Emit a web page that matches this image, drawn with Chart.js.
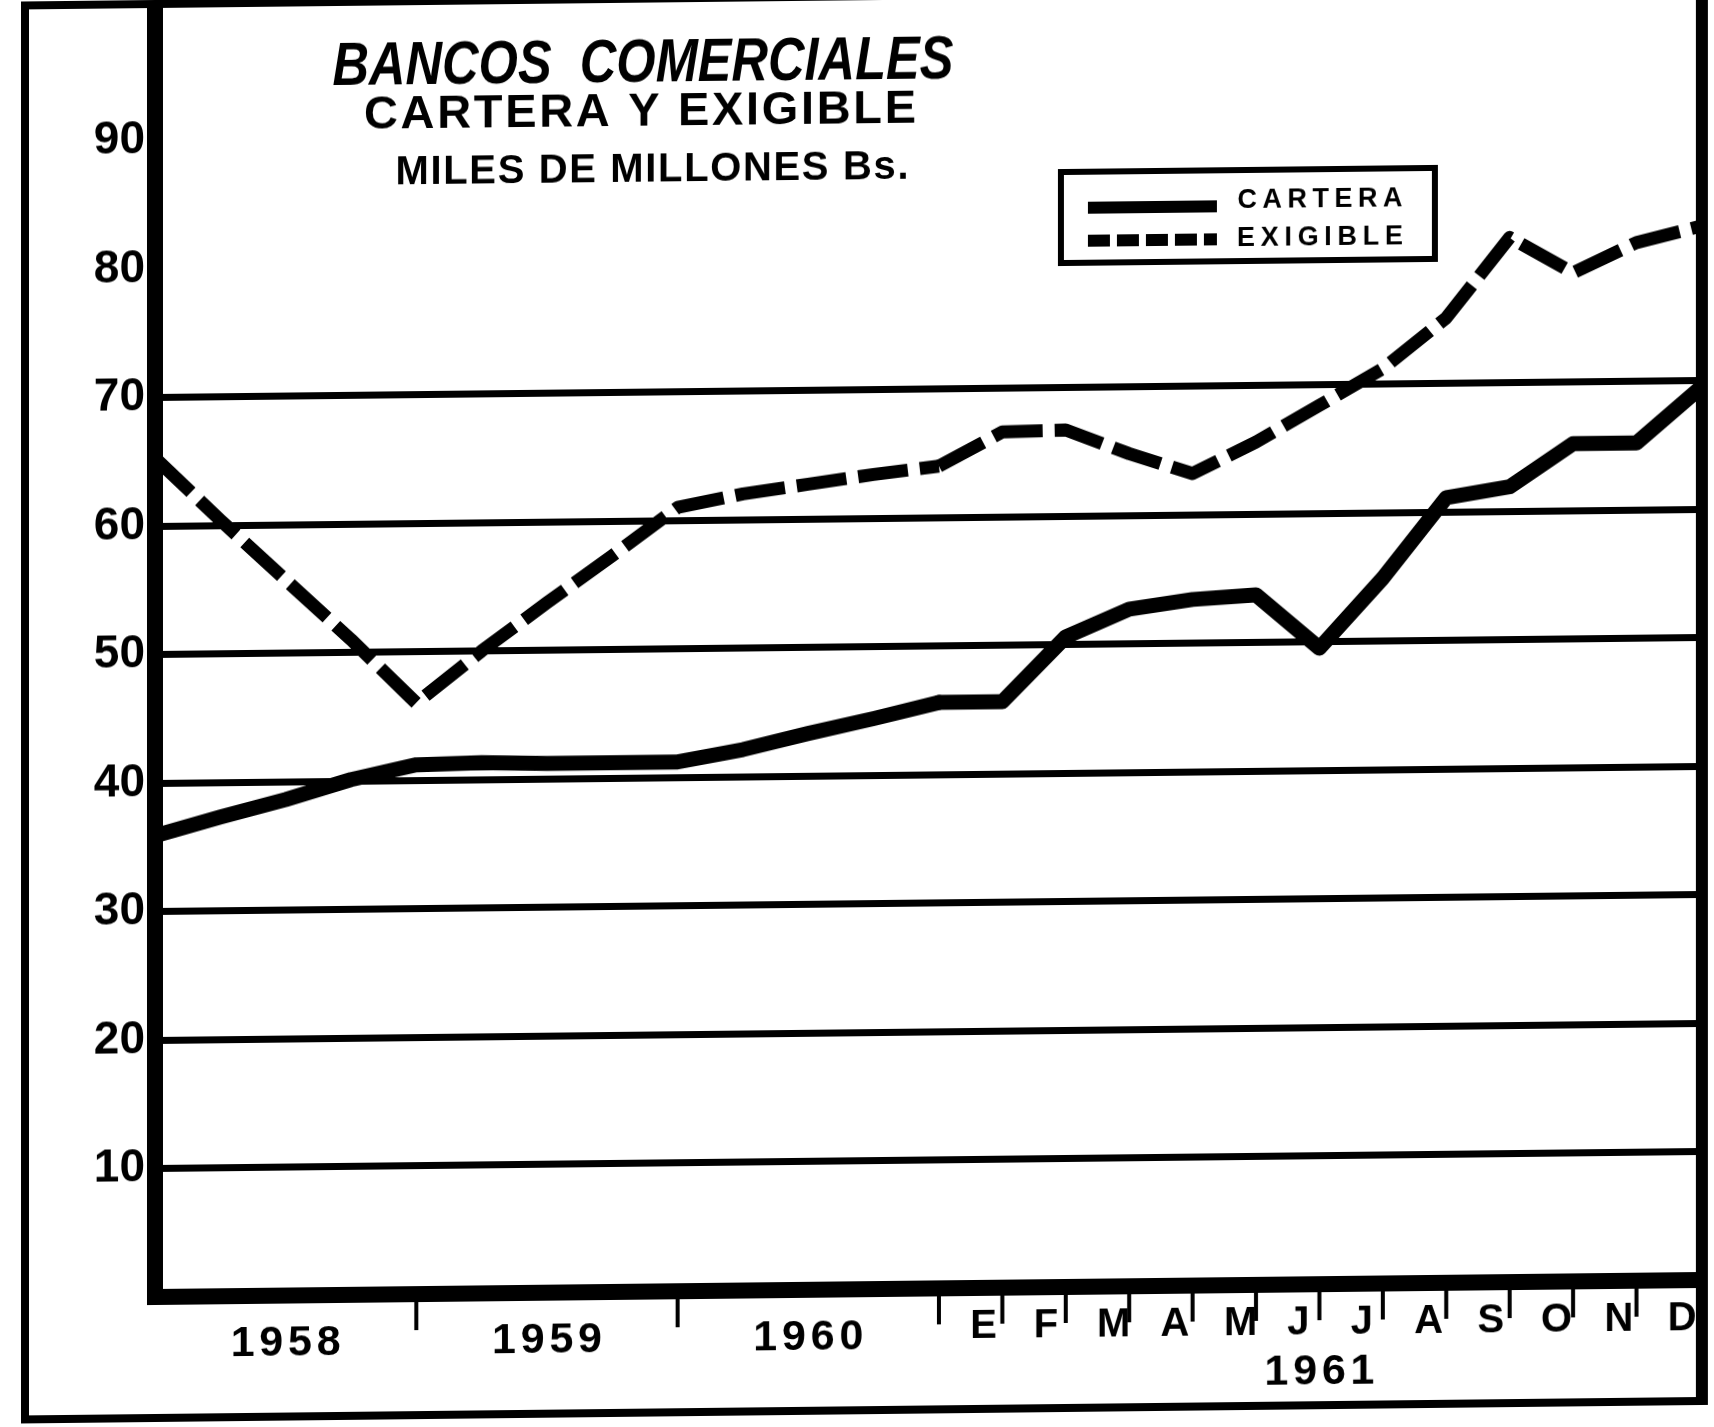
<!DOCTYPE html>
<html>
<head>
<meta charset="utf-8">
<script src="https://cdn.jsdelivr.net/npm/chart.js@4.4.1/dist/chart.umd.min.js"></script>
<style>
  html, body { margin: 0; padding: 0; background: #ffffff; }
  #wrap { position: relative; width: 1714px; height: 1427px; transform: skewY(-0.63deg); transform-origin: 155px 0; }
  canvas { display: block; }
</style>
</head>
<body>
<div id="wrap"><canvas id="c" width="1714" height="1427"></canvas></div>
<script>
// ---- data ----
// 1958-1960: quarterly points; 1961: monthly points (end of period values)
const periods = ['Dic 1957','Mar 1958','Jun 1958','Sep 1958','Dic 1958',
                 'Mar 1959','Jun 1959','Sep 1959','Dic 1959',
                 'Mar 1960','Jun 1960','Sep 1960','Dic 1960',
                 'Ene 1961','Feb 1961','Mar 1961','Abr 1961','May 1961','Jun 1961',
                 'Jul 1961','Ago 1961','Sep 1961','Oct 1961','Nov 1961','Dic 1961'];
const cartera  = [35.9, 37.3, 38.6, 40.1, 41.2, 41.3, 41.2, 41.2, 41.2,
                  42.1, 43.3, 44.4, 45.6, 45.6, 50.6, 52.7, 53.4, 53.7, 49.5,
                  54.9, 61.1, 61.9, 65.2, 65.2, 69.4];
const exigible = [65.3, 60.4, 55.7, 51.0, 46.0, 50.0, 53.7, 57.3, 61.0,
                  62.0, 62.7, 63.4, 64.0, 66.6, 66.7, 64.8, 63.2, 65.6, 68.4,
                  71.2, 75.1, 81.3, 78.5, 80.8, 82.0];
const seriesNames = ['CARTERA', 'EXIGIBLE'];
const yearLabels = ['1958', '1959', '1960'];
const monthLabels = ['E','F','M','A','M','J','J','A','S','O','N','D'];
const monthYear = '1961';
const yTickValues = [10, 20, 30, 40, 50, 60, 70, 80, 90];
const gridMax = 70;
const titleLines = ['BANCOS  COMERCIALES', 'CARTERA Y EXIGIBLE', 'MILES DE MILLONES Bs.'];

// split point between the quarterly part and the monthly part
const splitIdx = periods.indexOf('Dic 1960');
const periodsA = periods.slice(0, splitIdx + 1);
const periodsB = periods.slice(splitIdx);

const FONT = '"Liberation Sans", Arial, sans-serif';

function drawFitted(ctx, text, cx, cy, size, width, style) {
  ctx.save();
  ctx.font = (style || 'bold') + ' ' + size + 'px ' + FONT;
  const chars = Array.from(text);
  const ws = chars.map(c => ctx.measureText(c).width);
  const nat = ws.reduce((a, b) => a + b, 0);
  let sp = chars.length > 1 ? (width - nat) / (chars.length - 1) : 0;
  let sx = 1;
  if (sp < 0) { sx = width / nat; sp = 0; }
  ctx.translate(cx - width / 2, cy + 0.358 * size);
  ctx.scale(sx, 1);
  ctx.textAlign = 'left';
  ctx.textBaseline = 'alphabetic';
  ctx.fillStyle = '#000';
  let x = 0;
  chars.forEach((c, i) => { ctx.fillText(c, x, 0); x += ws[i] + sp; });
  ctx.restore();
}

const decorPlugin = {
  id: 'decor',
  afterDraw(chart) {
    const ctx = chart.ctx;
    const xa = chart.scales.xa, xb = chart.scales.xb;
    const area = chart.chartArea;
    ctx.save();
    ctx.fillStyle = '#000';
    // outer frame
    ctx.fillRect(21, 0, 1687, 8);
    ctx.fillRect(21, 0, 8, 1422);
    ctx.fillRect(21, 1414, 1687, 8);
    ctx.fillRect(1696, 0, 12, 1422);
    // axis lines
    ctx.fillRect(area.left - 8, 0, 16, area.bottom + 8);
    ctx.fillRect(area.left - 8, area.bottom - 8, area.right - area.left + 12, 16);

    // years (quarterly part)
    const pa = i => xa.getPixelForValue(i);
    const pb = i => xb.getPixelForValue(i);
    const yearEnds = yearLabels.map(y => periodsA.indexOf('Dic ' + y));
    let prev = 0;
    yearLabels.forEach((y, k) => {
      const a = pa(prev), b = pa(yearEnds[k]);
      drawFitted(ctx, y, (a + b) / 2, area.bottom + 45, 43, 110);
      ctx.fillRect(b - 2, area.bottom, 4, 36);
      prev = yearEnds[k];
    });
    // months (monthly part)
    monthLabels.forEach((m, k) => {
      const a = pb(k), b = pb(k + 1);
      drawFitted(ctx, m, (a + b) / 2, area.bottom + 36, 40, 1);
      if (k < monthLabels.length - 1) ctx.fillRect(b - 2, area.bottom, 4, 36);
    });
    drawFitted(ctx, monthYear, (pb(0) + pb(monthLabels.length)) / 2, area.bottom + 85, 43, 110);

    // title
    drawFitted(ctx, titleLines[0], 643, 65, 61, 621, 'italic bold');
    drawFitted(ctx, titleLines[1], 640, 114, 47, 552, 'bold');
    drawFitted(ctx, titleLines[2], 652, 173, 40, 513, 'bold');

    // legend
    ctx.lineWidth = 6;
    ctx.strokeStyle = '#000';
    ctx.strokeRect(1061, 182, 374, 91);
    ctx.lineCap = 'butt';
    ctx.beginPath();
    ctx.lineWidth = 12;
    ctx.setLineDash([]);
    ctx.moveTo(1088, 218); ctx.lineTo(1217, 218);
    ctx.stroke();
    ctx.beginPath();
    ctx.lineWidth = 12;
    ctx.setLineDash([22, 7]);
    ctx.moveTo(1088, 251); ctx.lineTo(1217, 251);
    ctx.stroke();
    ctx.setLineDash([]);
    drawFitted(ctx, seriesNames[0], 1320, 210, 27, 165);
    drawFitted(ctx, seriesNames[1], 1320, 248, 27, 166);
    ctx.restore();
  }
};

const solid = { borderColor: '#000', borderWidth: 15, pointRadius: 0, tension: 0, fill: false,
                borderJoinStyle: 'round', borderCapStyle: 'round' };
const dashed = { borderColor: '#000', borderWidth: 13, borderDash: [50, 12], pointRadius: 0, tension: 0,
                 fill: false, borderJoinStyle: 'round', borderCapStyle: 'butt' };

const xCommon = {
  type: 'category', offset: false, position: 'bottom', stack: 'time',
  ticks: { display: false },
  grid: { display: false, drawTicks: false },
  border: { display: true, color: '#000', width: 15 },
  afterFit(s) { s.height = 0; s.paddingLeft = 0; s.paddingRight = 0; }
};

new Chart(document.getElementById('c'), {
  type: 'line',
  data: {
    datasets: [
      Object.assign({ label: seriesNames[0], data: cartera.slice(0, splitIdx + 1), xAxisID: 'xa' }, solid),
      Object.assign({ label: seriesNames[0], data: cartera.slice(splitIdx), xAxisID: 'xb' }, solid),
      Object.assign({ label: seriesNames[1], data: exigible.slice(0, splitIdx + 1), xAxisID: 'xa' }, dashed),
      Object.assign({ label: seriesNames[1], data: exigible.slice(splitIdx), xAxisID: 'xb' }, dashed)
    ]
  },
  options: {
    responsive: false,
    animation: false,
    devicePixelRatio: 1,
    layout: { padding: { left: 30, right: 14, top: 7, bottom: 130 } },
    plugins: { legend: { display: false }, tooltip: { enabled: false }, title: { display: false } },
    scales: {
      xa: Object.assign({ labels: periodsA, stackWeight: 784 }, xCommon),
      xb: Object.assign({ labels: periodsB, stackWeight: 761 }, xCommon),
      y: {
        min: 0, max: 100.4,
        ticks: { stepSize: 10, includeBounds: false, color: '#000', padding: 10,
                 font: { family: FONT, weight: 'bold', size: 46 } },
        afterBuildTicks(s) { s.ticks = s.ticks.filter(t => yTickValues.includes(t.value)); },
        grid: { drawTicks: false, lineWidth: 7,
                color: c => (c.tick && c.tick.value <= gridMax) ? '#000' : 'rgba(0,0,0,0)' },
        border: { display: true, color: '#000', width: 15 },
        afterFit(s) { s.width = 125; s.paddingTop = 0; s.paddingBottom = 0; }
      }
    }
  },
  plugins: [decorPlugin]
});
</script>
</body>
</html>
